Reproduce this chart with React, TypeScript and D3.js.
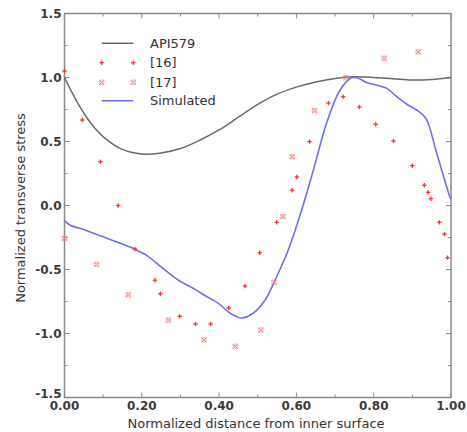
import React from "react";
import * as d3 from "d3";

const apiX = [0, 0.02, 0.04, 0.062, 0.08, 0.105, 0.148, 0.2, 0.25, 0.3, 0.35, 0.4, 0.45, 0.5, 0.55, 0.6, 0.65, 0.7, 0.75, 0.8, 0.85, 0.9, 0.95, 1.0];
const apiY = [1.0, 0.88, 0.77, 0.668, 0.6, 0.525, 0.44, 0.402, 0.41, 0.445, 0.51, 0.59, 0.69, 0.79, 0.87, 0.925, 0.965, 0.993, 1.005, 1.0, 0.99, 0.98, 0.985, 1.0];

const simX = [0, 0.014, 0.053, 0.1, 0.14, 0.182, 0.215, 0.25, 0.294, 0.338, 0.364, 0.398, 0.41, 0.428, 0.457, 0.488, 0.519, 0.545, 0.579, 0.61, 0.644, 0.678, 0.713, 0.743, 0.76, 0.782, 0.808, 0.834, 0.86, 0.885, 0.911, 0.935, 0.963, 0.997, 1.0];
const simY = [-0.118, -0.152, -0.191, -0.245, -0.29, -0.342, -0.395, -0.48, -0.582, -0.655, -0.705, -0.764, -0.795, -0.84, -0.879, -0.842, -0.738, -0.582, -0.348, -0.07, 0.277, 0.642, 0.902, 0.998, 0.994, 0.96, 0.94, 0.915, 0.85, 0.793, 0.746, 0.681, 0.408, 0.069, 0.05];

const ref16X = [0.0, 0.046, 0.093, 0.139, 0.182, 0.234, 0.248, 0.298, 0.339, 0.378, 0.425, 0.467, 0.505, 0.549, 0.589, 0.601, 0.634, 0.683, 0.721, 0.763, 0.805, 0.851, 0.9, 0.931, 0.941, 0.948, 0.97, 0.983, 0.991];
const ref16Y = [1.05, 0.668, 0.342, 0.0, -0.34, -0.584, -0.689, -0.866, -0.926, -0.926, -0.8, -0.629, -0.369, -0.131, 0.119, 0.223, 0.499, 0.8, 0.85, 0.77, 0.634, 0.504, 0.311, 0.158, 0.103, 0.053, -0.131, -0.223, -0.408];

const ref17X = [0.0, 0.083, 0.165, 0.269, 0.361, 0.442, 0.508, 0.542, 0.565, 0.589, 0.647, 0.728, 0.827, 0.915];
const ref17Y = [-0.256, -0.46, -0.697, -0.895, -1.05, -1.1, -0.973, -0.6, -0.087, 0.381, 0.741, 0.998, 1.15, 1.2];

const xTicks = [0, 0.2, 0.4, 0.6, 0.8, 1.0];
const xMinor = [0.1, 0.3, 0.5, 0.7, 0.9];
const yTicks = [-1.5, -1.0, -0.5, 0.0, 0.5, 1.0, 1.5];
const yMinor = [-1.25, -0.75, -0.25, 0.25, 0.75, 1.25];

const legendItems = ["API579", "[16]", "[17]", "Simulated"];

const L = 64.5, R = 451, T = 13.5, B = 397.5;
const AXIS = "#8a8a8a";
const RED16 = "#ff3030";
const RED17 = "#f27a7a";
const BLUE = "#6f70f0";
const GRAY = "#6a6a6a";

function Plus({ cx, cy }: { cx: number; cy: number }) {
  const s = 2.2;
  return (
    <g stroke={RED16} strokeWidth={1.3}>
      <line x1={cx - s} x2={cx + s} y1={cy} y2={cy} />
      <line x1={cx} x2={cx} y1={cy - s} y2={cy + s} />
    </g>
  );
}

function Cross({ cx, cy }: { cx: number; cy: number }) {
  const s = 2.2;
  return (
    <g stroke={RED17} strokeWidth={1}>
      <rect x={cx - s} y={cy - s} width={2 * s} height={2 * s} fill="none" strokeOpacity={0.5} />
      <line x1={cx - s} x2={cx + s} y1={cy - s} y2={cy + s} />
      <line x1={cx - s} x2={cx + s} y1={cy + s} y2={cy - s} />
    </g>
  );
}

export default function App() {
  const x = d3.scaleLinear().domain([0, 1]).range([L, R]);
  const y = d3.scaleLinear().domain([-1.5, 1.5]).range([B, T]);

  const apiLine = d3.line<number>().x((_, i) => x(apiX[i])).y((d) => y(d)).curve(d3.curveCatmullRom);
  const simLine = d3.line<number>().x((_, i) => x(simX[i])).y((d) => y(d)).curve(d3.curveCatmullRom);

  const font = "'DejaVu Sans', Verdana, sans-serif";
  const legX1 = 101.7, legX2 = 133.3, legTextX = 150;
  const legY = [43.3, 62.7, 82.3, 100.7];

  return (
    <svg width={467} height={432} style={{ position: "absolute", left: 0, top: 0, background: "#fff" }} fontFamily={font}>
      {/* ticks */}
      <g stroke={AXIS} strokeWidth={1}>
        {xTicks.map((t) => (
          <g key={"xt" + t}>
            <line x1={x(t)} x2={x(t)} y1={B} y2={B - 5} />
            <line x1={x(t)} x2={x(t)} y1={T} y2={T + 5} />
          </g>
        ))}
        {xMinor.map((t) => (
          <g key={"xm" + t}>
            <line x1={x(t)} x2={x(t)} y1={B} y2={B - 3} />
            <line x1={x(t)} x2={x(t)} y1={T} y2={T + 3} />
          </g>
        ))}
        {yTicks.map((t) => (
          <g key={"yt" + t}>
            <line x1={L} x2={L + 5} y1={y(t)} y2={y(t)} />
            <line x1={R} x2={R - 5} y1={y(t)} y2={y(t)} />
          </g>
        ))}
        {yMinor.map((t) => (
          <g key={"ym" + t}>
            <line x1={L} x2={L + 3} y1={y(t)} y2={y(t)} />
            <line x1={R} x2={R - 3} y1={y(t)} y2={y(t)} />
          </g>
        ))}
      </g>
      <rect x={L} y={T} width={R - L} height={B - T} fill="none" stroke={AXIS} strokeWidth={1.5} />

      {/* tick labels */}
      <g fontSize={12} fontWeight="bold" fill="#3a3a3a">
        {xTicks.map((t) => (
          <text key={"xl" + t} x={x(t)} y={410} textAnchor="middle">
            {d3.format(".2f")(t)}
          </text>
        ))}
        {yTicks.map((t) => (
          <text key={"yl" + t} x={L - 3} y={t === -1.5 ? B : y(t)} dy={t === -1.5 ? "0" : "0.35em"} textAnchor="end">
            {d3.format(".1f")(t).replace("\u2212", "-")}
          </text>
        ))}
      </g>

      {/* axis titles */}
      <text x={256} y={428} textAnchor="middle" fontSize={13} fill="#333">
        Normalized distance from inner surface
      </text>
      <text transform="translate(25,208) rotate(-90)" textAnchor="middle" fontSize={13} fill="#333">
        Normalized transverse stress
      </text>

      {/* lines */}
      <path d={apiLine(apiY) || ""} fill="none" stroke={GRAY} strokeWidth={1.5} />
      <path d={simLine(simY) || ""} fill="none" stroke={BLUE} strokeWidth={1.6} />

      {/* markers */}
      {ref16Y.map((v, i) => (
        <Plus key={"p" + i} cx={x(ref16X[i])} cy={y(v)} />
      ))}
      {ref17Y.map((v, i) => (
        <Cross key={"c" + i} cx={x(ref17X[i])} cy={y(v)} />
      ))}

      {/* legend */}
      <g fontSize={13} fill="#333">
        <line x1={legX1} x2={legX2} y1={legY[0]} y2={legY[0]} stroke={GRAY} strokeWidth={1.5} />
        <Plus cx={legX1} cy={legY[1]} />
        <Plus cx={legX2} cy={legY[1]} />
        <Cross cx={legX1} cy={legY[2]} />
        <Cross cx={legX2} cy={legY[2]} />
        <line x1={legX1} x2={legX2} y1={legY[3]} y2={legY[3]} stroke={BLUE} strokeWidth={1.6} />
        {legendItems.map((s, i) => (
          <text key={s} x={legTextX} y={legY[i]} dy="0.36em">
            {s}
          </text>
        ))}
      </g>
    </svg>
  );
}
